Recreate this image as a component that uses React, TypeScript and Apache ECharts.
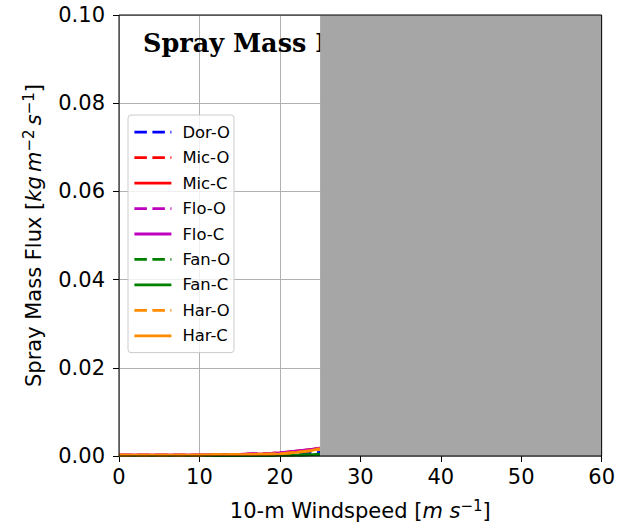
import React, { useEffect, useRef } from "react";
import * as echarts from "echarts";

const windspeed = [0, 2, 4, 6, 8, 10, 12, 14, 16, 18, 20, 22, 24, 25];
const dorO = [0.0001, 0.0001, 0.0001, 0.0001, 0.0001, 0.0001, 0.0001, 0.0002, 0.0002, 0.0003, 0.0004, 0.0005, 0.0007, 0.0008];
const micO = [0.0002, 0.0002, 0.0002, 0.0002, 0.0002, 0.0002, 0.0003, 0.0003, 0.0004, 0.0005, 0.0007, 0.001, 0.0014, 0.0017];
const micC = [0.0002, 0.0002, 0.0002, 0.0002, 0.0002, 0.0002, 0.0003, 0.0003, 0.0004, 0.0005, 0.0007, 0.0011, 0.0015, 0.0018];
const floO = [0.0002, 0.0002, 0.0002, 0.0002, 0.0002, 0.0002, 0.0003, 0.0003, 0.0004, 0.0005, 0.0007, 0.001, 0.0014, 0.0017];
const floC = [0.0002, 0.0002, 0.0002, 0.0002, 0.0002, 0.0002, 0.0003, 0.0003, 0.0004, 0.0005, 0.0007, 0.0011, 0.0015, 0.0018];
const fanO = [0.0001, 0.0001, 0.0001, 0.0001, 0.0001, 0.0001, 0.0001, 0.0001, 0.0001, 0.0001, 0.0002, 0.0002, 0.0003, 0.0003];
const fanC = [0.0001, 0.0001, 0.0001, 0.0001, 0.0001, 0.0001, 0.0001, 0.0001, 0.0001, 0.0001, 0.0002, 0.0002, 0.0003, 0.0004];
const harO = [0.0002, 0.0002, 0.0002, 0.0002, 0.0002, 0.0002, 0.0003, 0.0003, 0.0003, 0.0004, 0.0005, 0.0008, 0.0012, 0.0015];
const harC = [0.0002, 0.0002, 0.0002, 0.0002, 0.0002, 0.0002, 0.0003, 0.0003, 0.0003, 0.0004, 0.0005, 0.0008, 0.0013, 0.0017];

const seriesNames = ["Dor-O", "Mic-O", "Mic-C", "Flo-O", "Flo-C", "Fan-O", "Fan-C", "Har-O", "Har-C"];
const seriesValues = [dorO, micO, micC, floO, floC, fanO, fanC, harO, harC];
const seriesColors = ["#0000ff", "#ff0000", "#ff0000", "#bf00bf", "#bf00bf", "#008000", "#008000", "#ff8c00", "#ff8c00"];
const seriesDashed = [true, true, false, true, false, true, false, true, false];

const shadedRange = [25, 60];
const xTicks = [0, 60, 10];
const yTicks = [0, 0.1, 0.02];
const titleText = "Spray Mass Flux";

export default function App() {
  const ref = useRef<HTMLDivElement>(null);
  useEffect(() => {
    const chart = echarts.init(ref.current!, null, { renderer: "svg" });
    const lineSeries = seriesNames.map((name, i) => ({
      name,
      type: "line",
      symbol: "none",
      z: 2,
      data: windspeed.map((x, j) => [x, seriesValues[i][j]]),
      lineStyle: {
        color: seriesColors[i],
        width: 2.8,
        type: seriesDashed[i] ? [12.5, 5.5] : "solid",
      },
      itemStyle: { color: seriesColors[i] },
    }));
    const font = "DejaVu Sans";
    const fs = 21;
    const richName = {
      i: { fontFamily: font, fontStyle: "italic", fontSize: fs, color: "#000" },
      sup: { fontFamily: font, fontSize: 15, color: "#000", verticalAlign: "top", padding: [0, 0, 10, 0] },
    };
    chart.setOption({
      animation: false,
      backgroundColor: "#ffffff",
      textStyle: { fontFamily: font },
      title: {
        text: titleText,
        left: 143,
        top: 30,
        padding: 0,
        z: 0,
        textStyle: {
          fontFamily: "DejaVu Serif",
          fontWeight: "bold",
          fontSize: 25.5,
          color: "#000",
        },
      },
      grid: {
        left: 119,
        right: 14,
        top: 15,
        bottom: 70,
        show: true,
        borderColor: "#000",
        borderWidth: 1,
        backgroundColor: "transparent",
        z: 20,
      },
      legend: {
        orient: "vertical",
        left: 128,
        top: 115,
        padding: [9.2, 4, 8.8, 5],
        itemWidth: 37,
        itemHeight: 15,
        itemGap: 9.45,
        backgroundColor: "rgba(255,255,255,0.8)",
        borderColor: "#cccccc",
        borderWidth: 1,
        borderRadius: 3,
        data: seriesNames,
        itemStyle: { opacity: 0 },
        lineStyle: { width: 2.8 },
        textStyle: {
          fontFamily: font,
          fontSize: 16.4,
          lineHeight: 15,
          color: "#000",
          padding: [0, 0, 0, 6],
        },
      },
      xAxis: {
        type: "value",
        min: xTicks[0],
        max: xTicks[1],
        interval: xTicks[2],
        z: 0,
        name: "10-m Windspeed [{i|m s}{sup|\u22121}]",
        nameLocation: "middle",
        nameGap: 42,
        nameTextStyle: { fontFamily: font, fontSize: fs, color: "#000", rich: richName },
        axisLine: { show: false },
        axisTick: { show: true, length: 6, lineStyle: { color: "#000", width: 1 } },
        axisLabel: { fontFamily: font, fontSize: fs, color: "#000", margin: 10 },
        splitLine: { show: true, lineStyle: { color: "#b0b0b0", width: 1 } },
      },
      yAxis: {
        type: "value",
        min: yTicks[0],
        max: yTicks[1],
        interval: yTicks[2],
        z: 0,
        name: "Spray Mass Flux [{i|kg\u2009m}{sup|\u22122}{i|\u2009s}{sup|\u22121}]",
        nameLocation: "middle",
        nameGap: 73,
        nameTextStyle: { fontFamily: font, fontSize: fs, color: "#000", rich: richName },
        axisLine: { show: false },
        axisTick: { show: true, length: 6, lineStyle: { color: "#000", width: 1 } },
        axisLabel: {
          fontFamily: font,
          fontSize: fs,
          color: "#000",
          margin: 14,
          formatter: (v: number) => v.toFixed(2),
        },
        splitLine: { show: true, lineStyle: { color: "#b0b0b0", width: 1 } },
      },
      series: [
        ...lineSeries,
        {
          name: "shade",
          type: "line",
          data: [],
          z: 10,
          silent: true,
          markArea: {
            silent: true,
            z: 10,
            itemStyle: { color: "#a6a6a6", opacity: 1 },
            data: [[{ xAxis: shadedRange[0], yAxis: yTicks[0] }, { xAxis: shadedRange[1], yAxis: yTicks[1] }]],
          },
        },
      ],
    });
    return () => chart.dispose();
  }, []);
  return <div ref={ref} style={{ width: 618, height: 526, position: "absolute", left: 0, top: 0 }} />;
}
